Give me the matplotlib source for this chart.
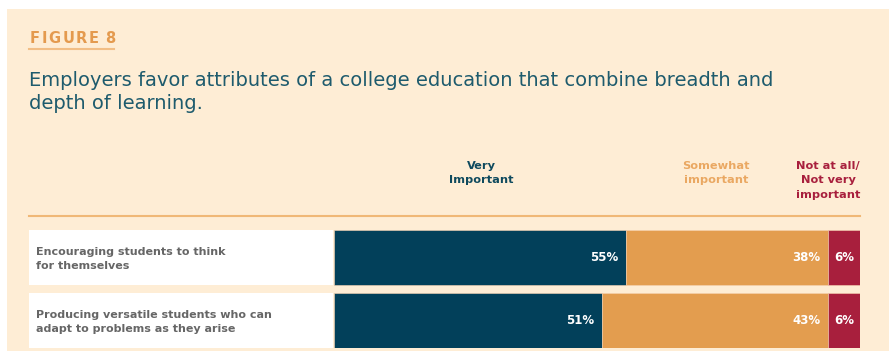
import matplotlib.pyplot as plt
import matplotlib.patches as patches
import numpy as np

# data
categories = ["Encouraging students to think\nfor themselves",
              "Producing versatile students who can\nadapt to problems as they arise"]
series_names = ["Very\nImportant", "Somewhat\nimportant", "Not at all/\nNot very\nimportant"]
very = [55, 51]
somewhat = [38, 43]
not_very = [6, 6]

colors = ["#02405A", "#E39D4F", "#A81F3D"]
header_colors = ["#0F4A5E", "#EAA862", "#A81F3D"]
BG = "#FEEDD5"
W, H = 889, 351

fig = plt.figure(figsize=(W / 100, H / 100), dpi=100)
fig.patch.set_facecolor("white")


def fx(x):
    return x / W


def fy(y):
    return 1 - y / H


# beige panel (below the bar axes)
fig.patches.append(patches.Rectangle((fx(7), 0), 1, fy(9), transform=fig.transFigure,
                                     facecolor=BG, edgecolor="none", zorder=-2))

# "FIGURE 8" with letter spacing
renderer = fig.canvas.get_renderer()
x = 30
for ch in "FIGURE 8":
    t = fig.text(fx(x), fy(43), ch, fontsize=10.5, fontweight="bold", color="#E49A4E",
                 ha="left", va="baseline")
    w = t.get_window_extent(renderer).width if ch != " " else 4
    x += w + 1.5
fig.add_artist(plt.Line2D([fx(29), fx(114)], [fy(49), fy(49)], color="#F2BE85", lw=1.5))

fig.text(fx(29), fy(86), "Employers favor attributes of a college education that combine breadth and",
         fontsize=14, color="#1E5B6D", ha="left", va="baseline")
fig.text(fx(29), fy(109), "depth of learning.",
         fontsize=14, color="#1E5B6D", ha="left", va="baseline")

# header line
fig.add_artist(plt.Line2D([fx(29), fx(860)], [fy(216), fy(216)], color="#F0B877", lw=1.5))

# bar axes
ax = fig.add_axes([fx(334), fy(348), fx(860 - 334), (348 - 230) / H])
ax.set_facecolor("none")
n = len(categories)
ypos = np.arange(n)
totals = np.array(very) + np.array(somewhat) + np.array(not_very)
segs = [np.array(very) / totals, np.array(somewhat) / totals, np.array(not_very) / totals]
raw = [very, somewhat, not_very]
bar_h = 55 / 63
left = np.zeros(n)
for k, (s, c) in enumerate(zip(segs, colors)):
    ax.barh(ypos, s, left=left, height=bar_h, color=c, edgecolor="#F6D3B3", lw=0.4)
    for i in range(n):
        if k < 2:
            ax.text(left[i] + s[i] - 0.015, ypos[i], f"{raw[k][i]}%", color="white",
                    fontsize=8.5, fontweight="bold", ha="right", va="center")
        else:
            ax.text(left[i] + s[i] / 2, ypos[i], f"{raw[k][i]}%", color="white",
                    fontsize=8.5, fontweight="bold", ha="center", va="center")
    left += s
ax.set_xlim(0, 1)
ax.set_ylim(1 + 0.5 * bar_h, -0.5 * bar_h)
ax.axis("off")

# row label boxes
row_tops = [230, 293]
for top, label in zip(row_tops, categories):
    fig.patches.append(patches.Rectangle((fx(29), fy(top + 55)), fx(333 - 29), 55 / H,
                                         transform=fig.transFigure, facecolor="white",
                                         edgecolor="none", zorder=1))
    fig.text(fx(36), fy(top + 29), label, fontsize=8, fontweight="bold", color="#666666",
             ha="left", va="center", linespacing=1.6, zorder=2)

# column headers
hx = [481, 716, 828]
for name, c, xx in zip(series_names, header_colors, hx):
    fig.text(fx(xx), fy(161), name, fontsize=8.2, fontweight="bold", color=c,
             ha="center", va="top", linespacing=1.55)

fig.savefig("out.png", dpi=100, facecolor=fig.get_facecolor())
